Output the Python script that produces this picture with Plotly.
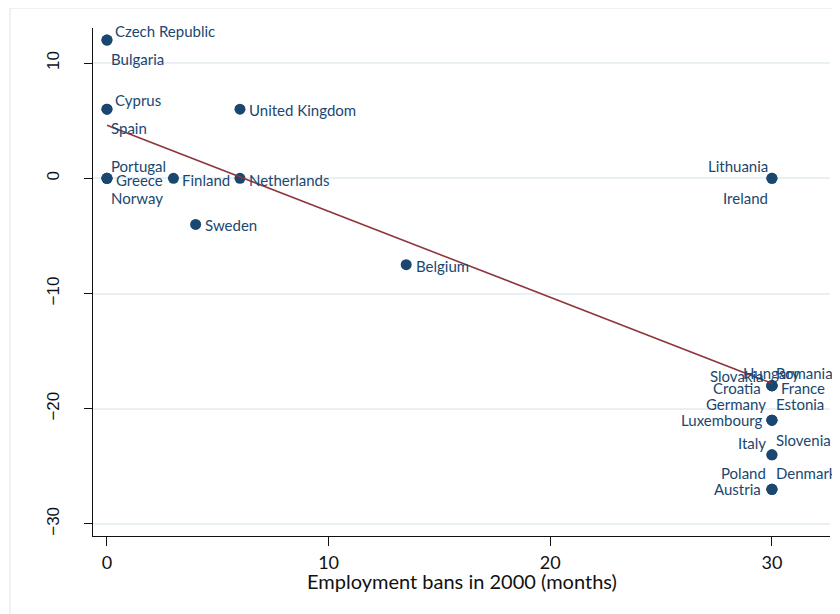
import plotly.graph_objects as go

# ---- data ----
countries = ["Czech Republic", "Bulgaria", "Cyprus", "Spain", "Portugal", "Greece", "Norway",
             "Finland", "Netherlands", "United Kingdom", "Sweden", "Belgium",
             "Lithuania", "Ireland", "Hungary", "Romania", "Slovakia", "Croatia", "France",
             "Germany", "Estonia", "Luxembourg", "Italy", "Slovenia", "Poland", "Denmark", "Austria"]
bans = [0, 0, 0, 0, 0, 0, 0,
        3, 6, 6, 4, 13.5,
        30, 30, 30, 30, 30, 30, 30,
        30, 30, 30, 30, 30, 30, 30, 30]
change = [12, 12, 6, 6, 0, 0, 0,
          0, 0, 6, -4, -7.5,
          0, 0, -18, -18, -18, -18, -18,
          -21, -21, -21, -24, -24, -27, -27, -27]
fit_x = [0, 30]
fit_y = [4.6, -17.8]
x_ticks = [0, 10, 20, 30]
y_ticks = [10, 0, -10, -20, -30]

# ---- label placement (style: anchor, dx px, dy px downward) ----
placement = {
    "Czech Republic": ("left", 7, -9), "Bulgaria": ("left", 3, 19),
    "Cyprus": ("left", 7, -9), "Spain": ("left", 3, 19),
    "Portugal": ("left", 3, -12), "Greece": ("left", 8, 2), "Norway": ("left", 3, 20),
    "Finland": ("left", 8, 2), "Netherlands": ("left", 8, 2),
    "United Kingdom": ("left", 8, 1), "Sweden": ("left", 8, 1), "Belgium": ("left", 9, 1),
    "Lithuania": ("right", -3, -12), "Ireland": ("right", -3, 20),
    "Hungary": ("center", 0, -13), "Romania": ("left", 3, -13),
    "Slovakia": ("right", -7, -10), "Croatia": ("right", -10, 2), "France": ("left", 8, 2),
    "Germany": ("right", -5, -16), "Estonia": ("left", 3, -16), "Luxembourg": ("right", -8, 0),
    "Italy": ("right", -5, -12), "Slovenia": ("left", 3, -15),
    "Poland": ("right", -5, -16), "Denmark": ("left", 3, -16), "Austria": ("right", -10, 0),
}

NAVY = "#1a476f"
MAROON = "#90353b"
GRID = "#e9f0f3"
label_font = dict(family="Lato, Open Sans, sans-serif", size=15, color=NAVY)

# page has an 8px body margin; figure is shifted accordingly
OFF = 8
W, H = 840 - OFF, 614 - OFF
L, T = 93 - OFF, 28 - OFF
R, B = 10, 78
PW, PH = W - L - R, H - T - B

fig = go.Figure()
fig.add_trace(go.Scatter(x=bans, y=change, mode="markers",
                         marker=dict(color=NAVY, size=11, line=dict(width=0)),
                         hoverinfo="text", text=countries, showlegend=False))
fig.add_trace(go.Scatter(x=fit_x, y=fit_y, mode="lines",
                         line=dict(color=MAROON, width=1.6), showlegend=False))

annotations = []
for c, xv, yv in zip(countries, bans, change):
    anchor, dx, dy = placement[c]
    annotations.append(dict(x=xv, y=yv, xref="x", yref="y", text=c, showarrow=False,
                            xanchor=anchor, yanchor="middle", xshift=dx, yshift=-dy,
                            font=label_font, borderpad=0))
annotations.append(dict(x=0.5, y=-(581 - 536) / PH, xref="paper", yref="paper", yanchor="middle",
                        text="Employment bans in 2000 (months)", showarrow=False,
                        font=dict(family="Lato, Open Sans, sans-serif", size=20, color="#111111")))

fig.update_layout(
    width=W, height=H,
    margin=dict(l=L, r=R, t=T, b=B, autoexpand=False),
    paper_bgcolor="white", plot_bgcolor="white",
    annotations=annotations,
    shapes=[dict(type="rect", xref="paper", yref="paper",
                 x0=(10 - 93) / PW, x1=(860 - 93) / PW,
                 y0=-(640 - 536) / PH, y1=(536 - 8) / PH,
                 line=dict(color="#e8eff2", width=1.5), fillcolor="rgba(0,0,0,0)", layer="below")],
    xaxis=dict(range=[-0.63, 32.62], tickvals=x_ticks, ticks="outside", ticklen=9,
               tickcolor="#111111", tickwidth=1, showgrid=False, zeroline=False,
               showline=True, linecolor="#111111", linewidth=1.3, ticklabelstandoff=1,
               tickfont=dict(family="Lato, Open Sans, sans-serif", size=18, color="#111111")),
    yaxis=dict(range=[-31.05, 13.05], tickvals=y_ticks, ticks="outside", ticklen=8,
               tickcolor="#111111", tickwidth=1, showgrid=True, gridcolor=GRID, gridwidth=2,
               zeroline=False, showline=True, linecolor="#111111", linewidth=1.3,
               tickangle=-90, ticklabelstandoff=18,
               tickfont=dict(family="Liberation Sans, Arial, sans-serif", size=17, color="#111111")),
)

fig.write_html("out.html")
